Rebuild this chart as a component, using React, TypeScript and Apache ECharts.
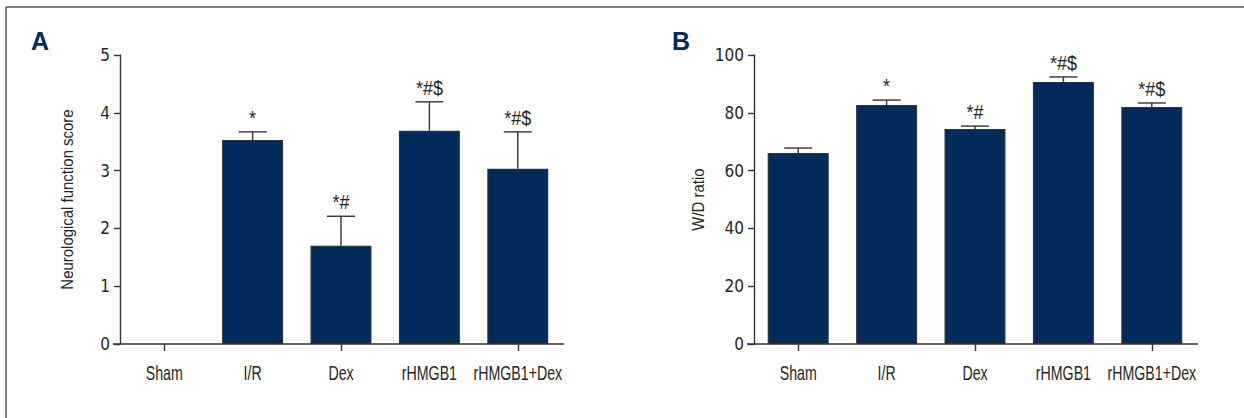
import React, { useEffect, useRef } from "react";
import * as echarts from "echarts";

const categories = ["Sham", "I/R", "Dex", "rHMGB1", "rHMGB1+Dex"];
const scoreMeans = [0, 3.53, 1.7, 3.69, 3.03];
const scoreSD = [0, 0.14, 0.51, 0.5, 0.64];
const scoreMarks = ["", "*", "*#", "*#$", "*#$"];
const ratioMeans = [66.1, 82.7, 74.4, 90.7, 82.0];
const ratioSD = [1.7, 1.7, 1.0, 1.7, 1.4];
const ratioMarks = ["", "*", "*#", "*#$", "*#$"];
const scoreAxis = { min: 0, max: 5, interval: 1, name: "Neurological function score" };
const ratioAxis = { min: 0, max: 100, interval: 20, name: "W/D ratio" };
const panelLetters = ["A", "B"];

const FONT = '"Liberation Sans", Arial, sans-serif';
const TICKFONT = '"DejaVu Sans Condensed", "Liberation Sans", sans-serif';
const INK = "#333333";
const TEXT = "#262626";
const NAVY = "#022a5b";

const GRID_TOP = 55;
const GRID_H = 289;
const GRID_W = 442;
const GRID_LEFTS = [120, 754];
const NAME_X = [67, 698];
const LETTER_X = [31, 672];

function makeErrorRenderer(marks: string[]) {
  return (params: any, api: any) => {
    const i = api.value(0);
    const mean = api.value(1);
    const sd = api.value(2);
    const base = api.coord([i, mean]);
    const top = api.coord([i, mean + sd]);
    const children: any[] = [];
    if (sd > 0) {
      children.push({
        type: "line",
        shape: { x1: base[0], y1: base[1], x2: top[0], y2: top[1] },
        style: { stroke: INK, lineWidth: 1.4 },
      });
      children.push({
        type: "line",
        shape: { x1: top[0] - 14, y1: top[1], x2: top[0] + 14, y2: top[1] },
        style: { stroke: INK, lineWidth: 1.4 },
      });
    }
    const mark = marks[params.dataIndex];
    if (mark) {
      children.push({
        type: "text",
        x: top[0],
        y: top[1] - 4,
        scaleX: 0.9,
        style: {
          text: mark,
          fill: TEXT,
          font: `20px ${FONT}`,
          align: "center",
          verticalAlign: "bottom",
        },
      });
    }
    return { type: "group", children };
  };
}

function labelRenderer(params: any, api: any) {
  const i = api.value(0);
  const p = api.coord([i, 0]);
  return {
    type: "text",
    x: p[0],
    y: p[1] + 29,
    scaleX: 0.71,
    style: {
      text: categories[params.dataIndex],
      fill: TEXT,
      font: `20px ${FONT}`,
      align: "center",
      verticalAlign: "middle",
    },
  };
}

export default function App() {
  const ref = useRef<HTMLDivElement>(null);
  useEffect(() => {
    document.body.style.margin = "0";
    const chart = echarts.init(ref.current!, null, { renderer: "svg" });
    const axes = [scoreAxis, ratioAxis];
    const panels = [
      { means: scoreMeans, sd: scoreSD, marks: scoreMarks },
      { means: ratioMeans, sd: ratioSD, marks: ratioMarks },
    ];
    const grid = GRID_LEFTS.map((left) => ({
      left,
      top: GRID_TOP,
      width: GRID_W,
      height: GRID_H,
    }));
    const xAxis = GRID_LEFTS.map((_, k) => ({
      type: "category",
      gridIndex: k,
      data: categories,
      axisLine: { show: false },
      axisTick: {
        show: true,
        alignWithLabel: true,
        length: 7,
        lineStyle: { color: INK, width: 1.4 },
      },
      axisLabel: { show: false },
    }));
    const yAxis = axes.map((a, k) => ({
      type: "value",
      gridIndex: k,
      min: a.min,
      max: a.max,
      interval: a.interval,
      axisLine: { show: true, lineStyle: { color: INK, width: 1.4 } },
      axisTick: { show: true, length: 6, lineStyle: { color: INK, width: 1.4 } },
      axisLabel: { margin: 10, color: TEXT, fontSize: 17, fontFamily: TICKFONT },
      splitLine: { show: false },
    }));
    const series: any[] = [];
    panels.forEach((p, k) => {
      series.push({
        type: "bar",
        xAxisIndex: k,
        yAxisIndex: k,
        data: p.means.map((v) =>
          v === 0 ? { value: v, itemStyle: { borderWidth: 0 } } : v
        ),
        barWidth: 61,
        itemStyle: { color: NAVY, borderColor: INK, borderWidth: 1.2 },
        z: 2,
      });
      series.push({
        type: "custom",
        xAxisIndex: k,
        yAxisIndex: k,
        data: p.means.map((m, i) => [i, m, p.sd[i]]),
        renderItem: makeErrorRenderer(p.marks),
        z: 3,
      });
      series.push({
        type: "custom",
        xAxisIndex: k,
        yAxisIndex: k,
        data: categories.map((_, i) => [i, 0]),
        renderItem: labelRenderer,
        clip: false,
        z: 3,
      });
    });
    const graphic: any[] = [
      {
        type: "line",
        shape: { x1: 6, y1: 7, x2: 1244, y2: 7 },
        style: { stroke: "#555", lineWidth: 1.5 },
      },
      {
        type: "line",
        shape: { x1: 6, y1: 7, x2: 6, y2: 418 },
        style: { stroke: "#555", lineWidth: 1.5 },
      },
    ];
    GRID_LEFTS.forEach((left, k) => {
      graphic.push({
        type: "text",
        x: LETTER_X[k],
        y: 28,
        style: {
          text: panelLetters[k],
          fill: NAVY,
          font: 'bold 25px "Liberation Sans", sans-serif',
        },
      });
      graphic.push({
        type: "text",
        x: NAME_X[k],
        y: GRID_TOP + GRID_H / 2,
        rotation: Math.PI / 2,
        scaleX: 0.88,
        style: {
          text: axes[k].name,
          fill: TEXT,
          font: `17px ${FONT}`,
          align: "center",
          verticalAlign: "middle",
        },
      });
      graphic.push({
        type: "line",
        z: 10,
        shape: {
          x1: left - 7,
          y1: GRID_TOP + GRID_H,
          x2: left + GRID_W + 2,
          y2: GRID_TOP + GRID_H,
        },
        style: { stroke: INK, lineWidth: 1.4 },
      });
    });
    chart.setOption({
      animation: false,
      backgroundColor: "#ffffff",
      grid,
      xAxis,
      yAxis,
      series,
      graphic,
    });
    return () => chart.dispose();
  }, []);
  return <div ref={ref} style={{ width: 1244, height: 418 }} />;
}
